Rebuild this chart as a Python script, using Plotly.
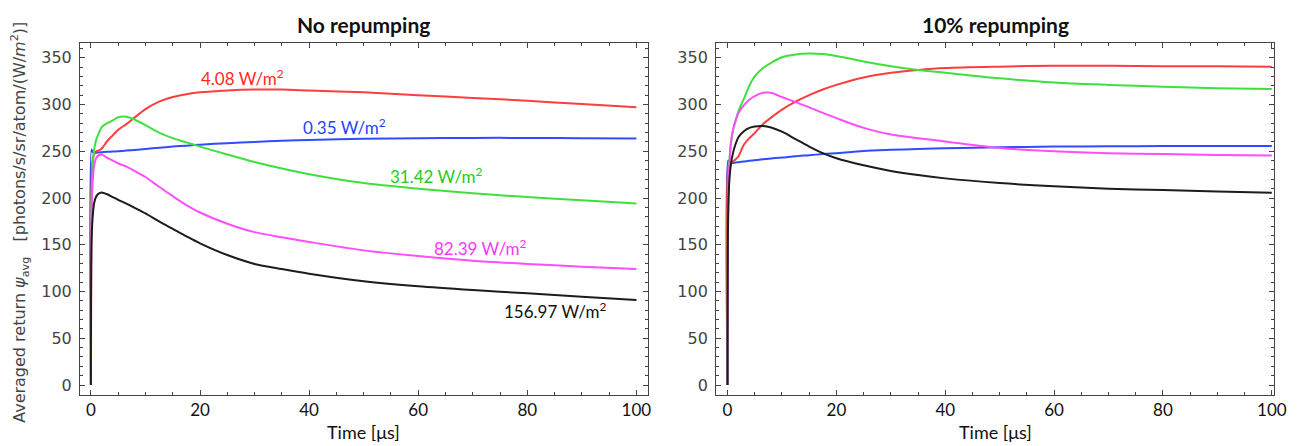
import plotly.graph_objects as go

# ---------------- data ----------------
time_us = [0, 0.1, 0.3, 0.6, 1, 1.5, 2, 3, 4, 5, 6.5, 8, 10, 12.5, 15, 17.5, 20,
           25, 30, 35, 40, 50, 60, 70, 80, 90, 100]

# No repumping
nr_red = [0, 200, 240, 247, 250, 251, 253, 261, 267, 273, 279, 286, 295, 303, 308,
          311, 313, 315, 316, 316, 315, 313, 310, 307, 304, 300.5, 297]
nr_green = [0, 195, 230, 252, 263, 270, 276, 280, 283, 286.5, 287, 284, 278, 270, 264,
            259.5, 255, 246.5, 238.5, 231.5, 225.5, 216, 210, 205, 201, 197.5, 194]
nr_blue = [0, 252, 249, 248, 248.5, 248.7, 249, 249.4, 249.7, 250, 250.7, 251.4, 252.5,
           253.7, 255, 256, 257, 258.7, 260, 261.2, 262, 263.3, 264, 264.3, 264.3, 264, 263.7]
nr_magenta = [0, 180, 215, 235, 243, 246, 246.5, 243, 240, 237, 233.5, 229, 222.5, 212, 202,
              192.5, 184.5, 172.5, 163.5, 158, 153, 144, 138, 133, 129.5, 126.5, 124]
nr_black = [0, 150, 178, 195, 202, 205, 206, 204, 201, 198, 194, 189.5, 183.5, 175, 167,
            159, 151.5, 139, 129.5, 124, 119, 111, 105.5, 101.5, 98, 94.5, 91]

# 10% repumping
rp_red = [0, 230, 234, 237, 239, 241.5, 244.5, 257, 264, 269.5, 279, 286, 294.5, 303, 310,
          316, 321, 329, 334, 337, 339, 340.5, 341.5, 341.5, 341, 340.8, 340.4]
rp_green = [0, 200, 235, 258, 272, 283, 293, 306, 320, 330, 339, 344.5, 350.5, 353.5, 354.5,
            354, 352, 346, 341, 337, 334, 328, 323.5, 321, 319, 317.5, 316.5]
rp_blue = [0, 240, 238.5, 238, 237.5, 238, 238.3, 239, 239.8, 240.5, 241.5, 242.3, 243.2,
           244.7, 245.8, 247, 248, 250.3, 251.5, 252.5, 253.3, 254.3, 255, 255.3, 255.5,
           255.6, 255.6]
rp_magenta = [0, 185, 230, 258, 273, 283, 291, 299, 305, 309, 312.5, 312.5, 308, 302.5, 297,
              291, 285.5, 275, 268, 264, 260.5, 253.5, 250, 248, 247, 246, 245.5]
rp_black = [0, 175, 215, 235, 248, 258, 265, 271.5, 275, 276.5, 277, 275.5, 271, 263, 255,
            248, 242.5, 235, 229, 224.5, 221, 216, 212.5, 210, 208.5, 207, 205.5]

curve_labels = ["0.35 W/m<sup>2</sup>", "4.08 W/m<sup>2</sup>", "31.42 W/m<sup>2</sup>",
                "82.39 W/m<sup>2</sup>", "156.97 W/m<sup>2</sup>"]
label_x = [46.4, 27.8, 63.3, 71.5, 85.0]
label_y = [276, 329, 224, 147, 80]

panel_titles = ["No repumping", "10% repumping"]
x_ticks = [0, 20, 40, 60, 80, 100]
y_ticks = [0, 50, 100, 150, 200, 250, 300, 350]

# ---------------- styling ----------------
colors = ["#2f4dff", "#ff3d3d", "#3ee03e", "#ff4dff", "#1c1c1c"]
label_colors = ["#1f3fff", "#ff2a1a", "#22cc22", "#ff33ff", "#111111"]

fig = go.Figure()

left = [nr_blue, nr_red, nr_green, nr_magenta, nr_black]
right = [rp_blue, rp_red, rp_green, rp_magenta, rp_black]

for vals, c in zip(left, colors):
    fig.add_trace(go.Scatter(x=time_us, y=vals, mode="lines",
                             line=dict(color=c, width=2, shape="spline", smoothing=0.8),
                             xaxis="x", yaxis="y", showlegend=False, hoverinfo="skip"))
for vals, c in zip(right, colors):
    fig.add_trace(go.Scatter(x=time_us, y=vals, mode="lines",
                             line=dict(color=c, width=2, shape="spline", smoothing=0.8),
                             xaxis="x2", yaxis="y2", showlegend=False, hoverinfo="skip"))

axcol = "#444444"
common = dict(showline=True, linecolor=axcol, linewidth=1, mirror="ticks", ticks="inside",
              ticklen=5, tickcolor=axcol, tickwidth=1, showgrid=False, zeroline=False)
xcommon = dict(common, tickvals=x_ticks,
               minor=dict(ticks="inside", ticklen=3, dtick=5, tick0=0, tickcolor=axcol, showgrid=False),
               tickfont=dict(family="Lato", size=17, color="#111111"))
ycommon = dict(common, tickvals=y_ticks, range=[-10.7, 365.8],
               minor=dict(ticks="inside", ticklen=3, dtick=10, tick0=0, tickcolor=axcol, showgrid=False),
               tickfont=dict(family="DejaVu Sans", size=16, color="#444444"),
               ticklabelstandoff=4)

W, H = 1299, 446
ml, mr, mt, mb = 80, 22, 43, 51
pw = W - ml - mr
d1 = [0, (649.3 - ml) / pw]
d2 = [(717.7 - ml) / pw, 1]

fig.update_layout(
    width=W, height=H,
    margin=dict(l=ml, r=mr, t=mt, b=mb),
    paper_bgcolor="white", plot_bgcolor="white",
    xaxis=dict(xcommon, domain=d1, range=[-2.0, 102.1], anchor="y"),
    yaxis=dict(ycommon, domain=[0, 1], anchor="x"),
    xaxis2=dict(xcommon, domain=d2, range=[-2.1, 100.4], anchor="y2"),
    yaxis2=dict(ycommon, domain=[0, 1], anchor="x2"),
)

ann = []
for txt, x, y, c in zip(curve_labels, label_x, label_y, label_colors):
    ann.append(dict(text=txt, x=x, y=y, xref="x", yref="y", showarrow=False,
                    font=dict(family="Lato", size=17, color=c)))

for txt, d in zip(panel_titles, [d1, d2]):
    ann.append(dict(text="<b>" + txt + "</b>", x=(d[0] + d[1]) / 2, y=(395.3 - 25) / 352,
                    xref="paper", yref="paper", showarrow=False, xanchor="center", yanchor="middle",
                    font=dict(family="Lato", size=21, color="#111111")))
    ann.append(dict(text="Time [μs]", x=(d[0] + d[1]) / 2, y=(395.3 - 432) / 352,
                    xref="paper", yref="paper", showarrow=False, xanchor="center", yanchor="middle",
                    font=dict(family="Lato", size=18, color="#111111")))

ann.append(dict(text="Averaged return <i>ψ</i><sub>avg</sub>\u00a0\u00a0 [photons/s/sr/atom/(W/<i>m</i><sup>2</sup>)]",
                x=(20 - ml) / pw, y=(395.3 - 223) / 352, xref="paper", yref="paper",
                showarrow=False, textangle=-90, xanchor="center", yanchor="middle",
                font=dict(family="DejaVu Sans", size=16, color="#444444")))

fig.update_layout(annotations=ann)

fig.write_html("out.html", config={"displayModeBar": False},
               post_script="document.body.style.margin='0';")
